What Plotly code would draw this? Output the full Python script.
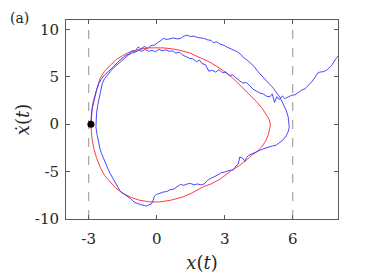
import plotly.graph_objects as go

# Red reference orbit
red_x = [-2.9, -2.88, -2.79, -2.65, -2.50, -2.30, -2.06, -1.80, -1.47, -1.20, -0.89, -0.60, -0.31, 0.0, 0.28, 0.65, 1.01, 1.45, 1.9, 2.35, 2.80, 3.2, 3.53, 3.83, 4.1, 4.41, 4.65, 4.85, 4.97, 5.02, 4.98, 4.92, 4.80, 4.63, 4.42, 4.19, 3.95, 3.67, 3.31, 2.80, 2.4, 2.04, 1.6, 1.16, 0.65, 0.13, -0.30, -0.75, -1.10, -1.47, -1.80, -2.06, -2.30, -2.50, -2.66, -2.77, -2.85, -2.88, -2.9]
red_y = [0.0, 1.2, 2.53, 3.75, 4.82, 5.6, 6.23, 6.8, 7.29, 7.6, 7.81, 7.98, 8.06, 8.1, 8.06, 7.97, 7.81, 7.53, 7.08, 6.55, 5.88, 5.2, 4.47, 3.8, 3.1, 2.36, 1.7, 0.95, 0.45, -0.1, -0.6, -1.16, -1.8, -2.4, -2.9, -3.27, -3.8, -4.33, -4.86, -5.8, -6.3, -6.62, -7.2, -7.67, -8.0, -8.2, -8.2, -8.02, -7.75, -7.32, -6.75, -6.09, -5.4, -4.5, -3.5, -2.57, -1.6, -0.81, 0.0]

# Blue noisy trajectory
blue_x = [-2.9, -2.88, -2.85, -2.84, -2.78, -2.72, -2.64, -2.55, -2.45, -2.3, -2.15, -2.0, -1.85, -1.7, -1.55, -1.4, -1.2, -1.1, -0.95, -0.82, -0.7, -0.55, -0.4, -0.25, -0.1, 0.05, 0.2, 0.3, 0.45, 0.6, 0.75, 0.9, 1.05, 1.2, 1.35, 1.5, 1.65, 1.8, 1.95, 2.1, 2.25, 2.4, 2.5, 2.65, 2.8, 2.95, 3.1, 3.25, 3.4, 3.55, 3.7, 3.85, 4.0, 4.15, 4.3, 4.45, 4.6, 4.75, 4.9, 5.0, 5.15, 5.3, 5.45, 5.55, 5.65, 5.72, 5.8, 5.84, 5.85, 5.8, 5.72, 5.6, 5.45, 5.28, 5.1, 4.95, 4.8, 4.7, 4.55, 4.45, 4.3, 4.2, 4.05, 3.97, 3.89, 3.8, 3.67, 3.6, 3.5, 3.38, 3.25, 3.1, 3.0, 2.85, 2.7, 2.55, 2.4, 2.25, 2.1, 1.95, 1.8, 1.65, 1.5, 1.35, 1.2, 1.05, 0.9, 0.75, 0.6, 0.45, 0.3, 0.15, 0.0, -0.1, -0.18, -0.25, -0.35, -0.45, -0.55, -0.7, -0.85, -1.0, -1.15, -1.3, -1.45, -1.6, -1.72, -1.85, -1.95, -2.05, -2.15, -2.25, -2.35, -2.43, -2.5, -2.57, -2.63, -2.68, -2.68, -2.65, -2.6, -2.55, -2.48, -2.4, -2.3, -2.15, -2.0, -1.85, -1.7, -1.55, -1.4, -1.25, -1.1, -0.95, -0.8, -0.65, -0.5, -0.35, -0.2, -0.05, 0.1, 0.25, 0.4, 0.55, 0.7, 0.85, 1.0, 1.15, 1.3, 1.45, 1.6, 1.75, 1.9, 2.0, 2.15, 2.3, 2.45, 2.6, 2.75, 2.9, 3.05, 3.2, 3.35, 3.5, 3.65, 3.8, 3.95, 4.1, 4.25, 4.4, 4.55, 4.7, 4.85, 5.0, 5.1, 5.2, 5.3, 5.4, 5.55, 5.65, 5.8, 5.95, 6.1, 6.25, 6.4, 6.55, 6.7, 6.85, 7.0, 7.1, 7.2, 7.35, 7.5, 7.6, 7.75, 7.9, 8.0]
blue_y = [0.0, 0.6, 1.3, 1.7, 2.3, 3.0, 3.7, 4.3, 4.75, 5.2, 5.5, 5.9, 6.2, 6.6, 6.9, 7.2, 7.45, 7.75, 7.7, 8.15, 7.95, 8.2, 8.0, 8.3, 8.35, 8.6, 8.8, 9.05, 8.95, 9.0, 9.1, 9.0, 9.05, 9.3, 9.4, 9.25, 9.3, 9.15, 9.1, 9.05, 8.9, 8.85, 8.6, 8.7, 8.45, 8.35, 8.15, 8.0, 7.8, 7.65, 7.4, 7.0, 6.75, 6.4, 6.1, 5.6, 5.2, 4.9, 4.5, 4.25, 3.8, 3.3, 2.8, 2.3, 1.8, 1.4, 0.8, 0.2, -0.3, -0.8, -1.2, -1.6, -1.9, -2.2, -2.3, -2.4, -2.5, -2.6, -2.75, -2.85, -3.0, -3.15, -3.3, -3.5, -3.9, -3.6, -3.45, -4.2, -4.4, -4.8, -4.85, -4.95, -5.05, -5.1, -5.35, -5.5, -5.7, -5.9, -6.3, -6.4, -6.3, -6.4, -6.25, -6.3, -6.45, -6.35, -6.6, -6.85, -6.9, -7.1, -7.15, -7.3, -7.4, -7.6, -8.2, -8.45, -8.5, -8.65, -8.55, -8.5, -8.35, -8.2, -7.85, -7.6, -7.3, -7.1, -6.6, -6.1, -5.7, -5.2, -4.7, -4.15, -3.7, -3.1, -2.6, -1.9, -1.1, -0.3, 0.5, 1.2, 2.0, 2.6, 3.5, 4.3, 4.8, 5.3, 5.7, 6.05, 6.4, 6.7, 7.0, 7.3, 7.5, 7.6, 7.8, 7.7, 7.9, 7.7, 7.8, 7.65, 7.9, 7.75, 7.85, 7.7, 7.75, 7.5, 7.6, 7.3, 7.1, 6.95, 6.9, 6.6, 6.75, 6.4, 6.3, 5.6, 5.7, 5.5, 5.75, 5.45, 5.5, 5.15, 5.2, 4.85, 4.6, 4.35, 4.4, 4.1, 3.7, 3.5, 3.3, 3.2, 2.95, 2.9, 3.2, 2.3, 2.9, 2.6, 3.0, 2.7, 2.85, 3.05, 3.1, 3.4, 3.6, 3.75, 4.1, 4.5, 5.0, 5.4, 5.5, 5.55, 5.7, 5.9, 6.3, 6.9, 7.2]

start_point = (-2.9, 0.0)
vlines_x = [-3, 6]
x_ticks = [-3, 0, 3, 6]
x_ticklabels = ["-3", "0", "3", "6"]
y_ticks = [-10, -5, 0, 5, 10]
y_ticklabels = ["-10", "-5", "0", "5", "10"]
x_range = [-4, 8]
y_range = [-10, 11]

FONT = "DejaVu Serif"

fig = go.Figure()
for xv in vlines_x:
    fig.add_trace(go.Scatter(x=[xv, xv], y=y_range, mode="lines",
                             line=dict(color="#a6a6a6", width=1.2, dash="dash"),
                             showlegend=False, hoverinfo="skip"))
fig.add_trace(go.Scatter(x=red_x, y=red_y, mode="lines",
                         line=dict(color="rgb(255,60,60)", width=1),
                         showlegend=False))
fig.add_trace(go.Scatter(x=blue_x, y=blue_y, mode="lines",
                         line=dict(color="rgb(50,50,255)", width=0.9),
                         showlegend=False))
fig.add_trace(go.Scatter(x=[start_point[0]], y=[start_point[1]], mode="markers",
                         marker=dict(color="black", size=7),
                         showlegend=False))

axis_common = dict(showgrid=False, zeroline=False, showline=True, mirror="ticks",
                   linecolor="#5a5a5a", linewidth=1, ticks="inside", ticklen=4,
                   tickcolor="#5a5a5a", automargin=False,
                   tickfont=dict(family=FONT, size=15, color="#262626"))

fig.update_layout(
    width=366, height=272,
    margin=dict(l=58, r=36, t=12, b=61),
    font=dict(family=FONT),
    plot_bgcolor="white", paper_bgcolor="white",
    xaxis=dict(range=x_range, tickvals=x_ticks, ticktext=x_ticklabels,
               ticklabelstandoff=6,
               title=dict(text="<i>x</i>(<i>t</i>)", font=dict(family=FONT, size=18, color="#262626"), standoff=9),
               **axis_common),
    yaxis=dict(range=y_range, tickvals=y_ticks, ticktext=y_ticklabels,
               ticklabelstandoff=3,
               title=dict(text="<i>x\u0307</i>(<i>t</i>)", font=dict(family=FONT, size=18, color="#262626"), standoff=0),
               **axis_common),
    annotations=[dict(text="(a)", x=-58/272, y=1 + 12/199, xref="paper", yref="paper",
                      xanchor="left", yanchor="top", showarrow=False,
                      font=dict(family=FONT, size=14, color="#262626"))],
)

fig.write_html("out.html")
